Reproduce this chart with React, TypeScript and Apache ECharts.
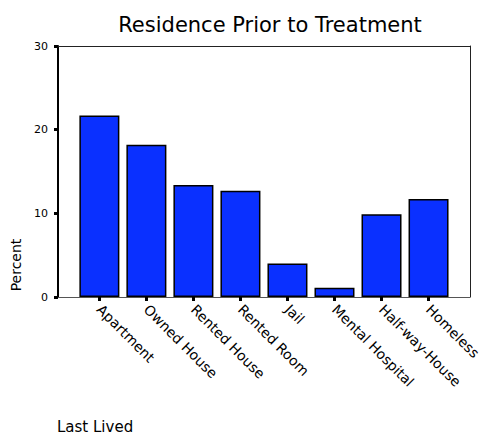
import React, { useEffect, useRef } from "react";
import * as echarts from "echarts";

const categories = [
  "Apartment",
  "Owned House",
  "Rented House",
  "Rented Room",
  "Jail",
  "Mental Hospital",
  "Half-way-House",
  "Homeless",
];
const percentValues = [21.7, 18.2, 13.4, 12.7, 4.0, 1.1, 9.9, 11.7];
const yTicks = [0, 10, 20, 30];

const FONT = "DejaVu Sans";

export default function App() {
  const ref = useRef<HTMLDivElement>(null);
  useEffect(() => {
    if (!ref.current) return;
    const chart = echarts.init(ref.current, undefined, { renderer: "svg" });
    const idx = categories.map((_, i) => i);
    chart.setOption({
      animation: false,
      backgroundColor: "#ffffff",
      title: {
        text: "Residence Prior to Treatment",
        left: 265,
        textAlign: "center",
        top: 9,
        textStyle: { fontFamily: FONT, fontSize: 21, fontWeight: "normal", color: "#000" },
      },
      grid: { left: 58, right: 12, top: 46, bottom: 139 },
      xAxis: [
        {
          type: "value",
          min: -0.88,
          max: 7.88,
          splitLine: { show: false },
          axisLine: { show: true, onZero: false, lineStyle: { color: "#555", width: 1 } },
          axisTick: {
            show: true,
            customValues: idx,
            length: 4,
            lineStyle: { color: "#000", width: 3 },
          },
          axisLabel: {
            customValues: idx,
            formatter: (v: number) => categories[Math.round(v)],
            rotate: -45,
            margin: 10,
            fontFamily: FONT,
            fontSize: 14,
            color: "#000",
          },
        },
        {
          type: "value",
          position: "top",
          min: -0.88,
          max: 7.88,
          splitLine: { show: false },
          axisLine: { show: true, onZero: false, lineStyle: { color: "#222", width: 1 } },
          axisTick: { show: false },
          axisLabel: { show: false },
        },
      ],
      yAxis: [
        {
          type: "value",
          min: 0,
          max: 30,
          interval: 10,
          splitLine: { show: false },
          axisLine: { show: true, onZero: false, lineStyle: { color: "#000", width: 2 } },
          axisTick: { show: true, length: 4, lineStyle: { color: "#000", width: 3 } },
          axisLabel: {
            formatter: (v: number) => (yTicks.includes(v) ? String(v) : ""),
            margin: 10,
            fontFamily: FONT,
            fontSize: 11,
            color: "#000",
          },
        },
        {
          type: "value",
          position: "right",
          min: 0,
          max: 30,
          interval: 10,
          splitLine: { show: false },
          axisLine: { show: true, onZero: false, lineStyle: { color: "#222", width: 1 } },
          axisTick: { show: false },
          axisLabel: { show: false },
        },
      ],
      series: [
        {
          type: "bar",
          xAxisIndex: 0,
          yAxisIndex: 0,
          barWidth: 40,
          data: percentValues.map((v, i) => [i, v]),
          itemStyle: { color: "#0a30ff", borderColor: "#000", borderWidth: 1.5 },
        },
      ],
      graphic: [
        {
          type: "text",
          x: 16,
          y: 265,
          rotation: Math.PI / 2,
          style: {
            text: "Percent",
            fontFamily: FONT,
            fontSize: 14,
            fill: "#000",
            textAlign: "center",
            textVerticalAlign: "middle",
          },
        },
        {
          type: "text",
          x: 57,
          y: 427,
          style: {
            text: "Last Lived",
            fontFamily: FONT,
            fontSize: 15,
            fill: "#000",
            textAlign: "left",
            textVerticalAlign: "middle",
          },
        },
      ],
    });
    return () => chart.dispose();
  }, []);
  return (
    <div
      ref={ref}
      style={{ position: "fixed", left: 0, top: 0, width: 484, height: 436 }}
    />
  );
}
